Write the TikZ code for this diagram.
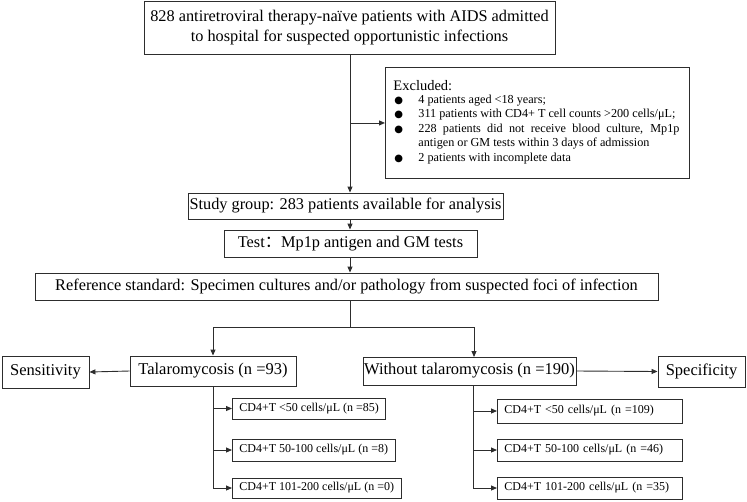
\documentclass[tikz,border=0pt]{standalone}
\usepackage{fontspec}
\setmainfont{Liberation Serif}
\newfontfamily\cjkfont{Noto Sans CJK SC}
\newfontfamily\symfont{DejaVu Sans}
\usepackage{tikz}
\usetikzlibrary{arrows.meta,positioning,calc}
\definecolor{linec}{RGB}{45,45,45}
\tikzset{
  box/.style={draw=linec,line width=0.9pt,rectangle,inner sep=0pt,align=center,
    font=\fontsize{16.3}{20.5}\selectfont},
  big box/.style={box,font=\fontsize{16.5}{19}\selectfont},
  sub box/.style={draw=linec,line width=0.9pt,rectangle,inner xsep=7pt,inner ysep=0pt,
    anchor=west,align=left,minimum height=22,font=\fontsize{12}{14}\selectfont},
  link/.style={draw=linec,line width=0.9pt},
  arr/.style={link,-{Triangle[length=6pt,width=5pt]}}
}
\newcommand{\bul}{{\symfont\fontsize{10}{10}\selectfont ●}}

\begin{document}
\begin{tikzpicture}[x=1pt,y=-1pt,line cap=butt,line join=miter]
  % ---- page window ----
  \useasboundingbox (0,0) rectangle (747,501);

  % ---- enrolment ----
  \node[box,minimum width=411,minimum height=53] (intake) at (349.5,27.5)
    {828 antiretroviral therapy-naïve patients with AIDS admitted\\
     to hospital for suspected opportunistic infections};

  \node[draw=linec,line width=0.9pt,anchor=north west,inner xsep=8pt,inner ysep=0pt,
    minimum height=111,align=left] (excl) at (385,67)
    {\begin{tabular}{@{}p{288pt}@{}}
       \fontsize{14.5}{17}\selectfont Excluded:\\[-1pt]
       \fontsize{12.2}{14.5}\selectfont \hyphenpenalty=10000
       \begin{tabular}{@{\hspace{1pt}}p{24pt}@{}p{261pt}@{}}
         \bul & 4 patients aged <18 years;\\
         \bul & 311 patients with CD4+ T cell counts >200 cells/μL;\\
         \bul & 228 patients did not receive blood culture, Mp1p\linebreak antigen or GM tests within 3 days of admission\\
         \bul & 2 patients with incomplete data
       \end{tabular}
     \end{tabular}};

  \node[box,minimum width=315,minimum height=26] (study) at (345.5,206)
    {Study group: 283 patients available for analysis};
  \node[box,minimum width=253,minimum height=27] (test) at (350.5,243.5)
    {Test{\cjkfont ：}Mp1p antigen and GM tests};
  \node[box,minimum width=623,minimum height=27] (ref) at (346.5,286.5)
    {Reference standard: Specimen cultures and/or pathology from suspected foci of infection};

  % ---- outcome groups ----
  \node[big box,minimum width=87,minimum height=32] (sens) at (45.5,372) {Sensitivity};
  \node[big box,minimum width=166,minimum height=30] (tal) at (213,371) {Talaromycosis (n =93)};
  \node[big box,minimum width=213,minimum height=28] (wo) at (469.5,371) {Without talaromycosis (n =190)};
  \node[big box,minimum width=87,minimum height=31] (spec) at (701.5,371.5) {Specificity};

  % ---- CD4 strata ----
  \node[sub box,minimum height=21] (t1) at (232,408.5) {CD4+T <50 cells/μL (n =85)};
  \node[sub box] (t2) at (232,450) {CD4+T 50-100 cells/μL (n =8)};
  \node[sub box,minimum height=20] (t3) at (232,488) {CD4+T 101-200 cells/μL (n =0)};

  \node[sub box,text width=171,minimum height=24] (w1) at (497,411) {CD4+T <50 cells/μL (n =109)};
  \node[sub box,text width=171] (w2) at (497,450) {CD4+T 50-100 cells/μL (n =46)};
  \node[sub box,text width=171] (w3) at (497,488) {CD4+T 101-200 cells/μL (n =35)};

  % ---- connectors ----
  \coordinate (trunk) at (350,54);
  \draw[arr] (trunk) -- (trunk |- study.north);
  \draw[arr] (trunk |- excl.west) -- (excl.west);
  \draw[arr] (trunk |- study.south) -- (trunk |- test.north);
  \draw[arr] (trunk |- test.south) -- (trunk |- ref.north);

  \coordinate (split) at (350,327);
  \coordinate (wtop) at (474,357);
  \draw[link] (trunk |- ref.south) -- (split);
  \draw[arr] (split) -| (tal.north);
  \draw[arr] (split) -| (wtop);

  \draw[arr] (tal.west) -- (sens.east);
  \draw[arr] (wo.east) -- (spec.west);

  \draw[arr] (tal.south) |- (t1.west);
  \draw[arr] (tal.south) |- (t2.west);
  \draw[arr] (tal.south) |- (t3.west);

  \coordinate (wbot) at (473,385);
  \draw[arr] (wbot) |- (w1.west);
  \draw[arr] (wbot) |- (w2.west);
  \draw[arr] (wbot) |- (w3.west);
\end{tikzpicture}
\end{document}
